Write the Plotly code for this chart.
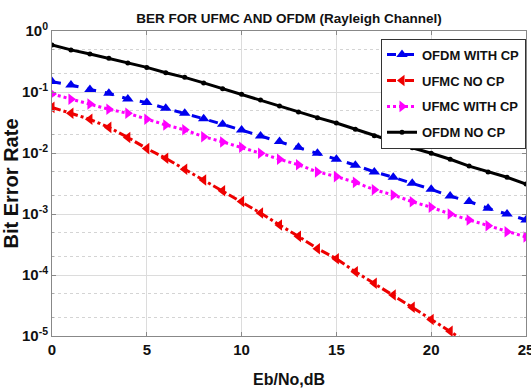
import plotly.graph_objects as go

snr_db = list(range(0, 26))
snr_red = list(range(0, 23))

ofdm_no_cp = [0.59, 0.49, 0.42, 0.356, 0.30, 0.253, 0.207, 0.174, 0.141, 0.113,
              0.092, 0.074, 0.059, 0.047, 0.038, 0.031, 0.0245, 0.0192, 0.0153,
              0.0122, 0.0099, 0.0079, 0.0061, 0.0049, 0.0040, 0.0031]
ofdm_with_cp = [0.148, 0.130, 0.110, 0.095, 0.077, 0.067, 0.054, 0.045, 0.0365,
                0.0295, 0.0238, 0.019, 0.0154, 0.0124, 0.0099, 0.0079, 0.0063,
                0.0049, 0.0040, 0.0032, 0.00254, 0.00197, 0.0016, 0.00124,
                0.0010, 0.0008]
ufmc_with_cp = [0.093, 0.076, 0.0636, 0.052, 0.0447, 0.0357, 0.0288, 0.024,
                0.0185, 0.0152, 0.0124, 0.0099, 0.0079, 0.0064, 0.0049, 0.0041,
                0.0033, 0.0025, 0.00205, 0.00159, 0.00129, 0.0010, 0.00080,
                0.00064, 0.00051, 0.00042]
ufmc_no_cp = [0.056, 0.045, 0.0357, 0.0263, 0.018, 0.0118, 0.0082, 0.0054,
              0.0036, 0.0024, 0.0016, 0.00104, 0.00066, 0.00043, 0.00027,
              0.000185, 0.000113, 7.3e-5, 4.7e-5, 2.95e-5, 1.87e-5, 1.2e-5, 7.5e-6]

x_ticks = [0, 5, 10, 15, 20, 25]
y_tickvals = [1e-5, 1e-4, 1e-3, 1e-2, 1e-1, 1]
y_ticktext = ["10<sup>-5</sup>", "10<sup>-4</sup>", "10<sup>-3</sup>",
              "10<sup>-2</sup>", "10<sup>-1</sup>", "10<sup>0</sup>"]

FONT = "Liberation Sans, Arial, sans-serif"

fig = go.Figure()
series = [
    ("OFDM WITH CP", snr_db, ofdm_with_cp, "#0000ee", "dash", "triangle-up", 10),
    ("UFMC NO CP", snr_red, ufmc_no_cp, "#ee0000", "dashdot", "triangle-left", 10),
    ("UFMC WITH CP", snr_db, ufmc_with_cp, "#ff00ff", "dot", "triangle-right", 10),
    ("OFDM NO CP", snr_db, ofdm_no_cp, "#000000", "solid", "circle", 5),
]
for i, (name, xs, ys, col, dash, sym, sz) in enumerate(series):
    fig.add_trace(go.Scatter(
        x=xs, y=ys, name=name, mode="lines+markers", legendgroup="g%d" % i,
        line=dict(color=col, width=3, dash=dash),
        marker=dict(symbol=sym, size=sz, color=col)))

fig.update_layout(
    width=531, height=390,
    margin=dict(l=52, r=5, t=31, b=54),
    paper_bgcolor="white", plot_bgcolor="white",
    font=dict(family=FONT, color="#111111"),
    title=dict(text="<b>BER FOR UFMC AND OFDM (Rayleigh Channel)</b>",
               x=0.5, xref="paper", xanchor="center", y=0.954, yanchor="middle",
               font=dict(size=13.5, family=FONT, color="#111111")),
    legend=dict(x=1.0, xanchor="right", y=0.975, yanchor="top",
                bgcolor="white", bordercolor="#333333", borderwidth=1,
                font=dict(size=13, family=FONT, color="#111111", weight="bold"),
                itemwidth=30, traceorder="grouped", tracegroupgap=6),
    showlegend=True,
)
fig.update_xaxes(
    range=[0, 25], tickvals=x_ticks, automargin=False,
    tickfont=dict(size=15, family=FONT, weight="bold"),
    ticklabeloverflow="allow",
    title=dict(text="Eb/No,dB", font=dict(size=16, family=FONT, weight="bold"), standoff=16),
    showgrid=True, gridcolor="#dcdcdc", gridwidth=1,
    showline=True, linecolor="#888888", linewidth=1, mirror="ticks",
    ticks="inside", ticklen=4, tickcolor="#888888", zeroline=False,
)
fig.update_yaxes(
    type="log", range=[-5, 0], tickvals=y_tickvals, ticktext=y_ticktext,
    automargin=False,
    tickfont=dict(size=15, family=FONT, weight="bold"),
    title=dict(text="Bit Error Rate", font=dict(size=20, family=FONT, weight="bold"), standoff=6),
    showgrid=True, gridcolor="#dcdcdc", gridwidth=1,
    showline=True, linecolor="#888888", linewidth=1, mirror="ticks",
    ticks="inside", ticklen=4, tickcolor="#888888", zeroline=False,
    minor=dict(showgrid=True, gridcolor="#d4d4d4", griddash="dot",
               ticks="inside", ticklen=2, tickcolor="#aaaaaa"),
)

fig.write_html("out.html")
